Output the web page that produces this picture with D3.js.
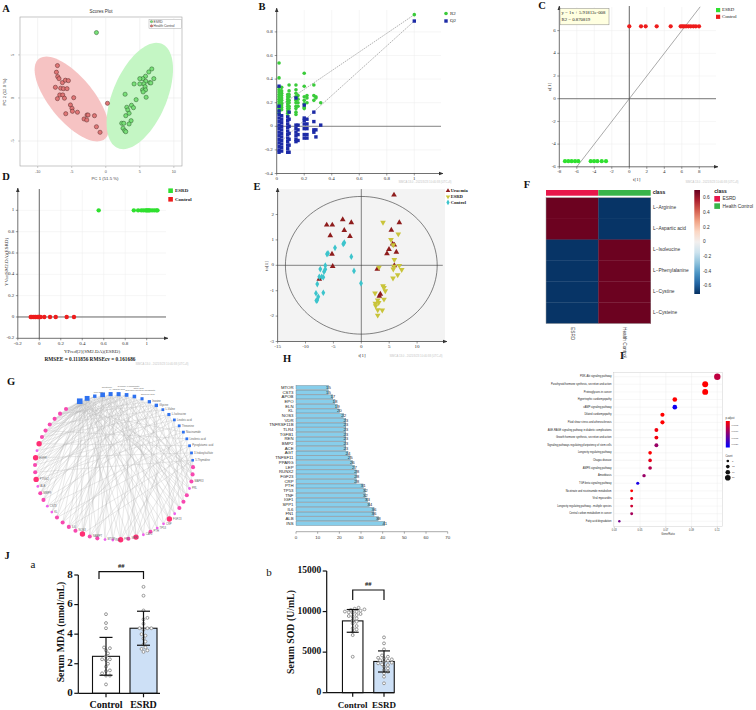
<!DOCTYPE html>
<html><head><meta charset="utf-8">
<script src="https://cdn.jsdelivr.net/npm/d3@7/dist/d3.min.js"></script>
<style>html,body{margin:0;padding:0;background:#fff;}svg{display:block}</style>
</head><body>
<svg id="fig" width="756" height="710" xmlns="http://www.w3.org/2000/svg"></svg>
<script>
// ================= DATA =================
// Panel A – PCA scores plot
const aXTicks = [-10,-5,0,5,10];
const aYTicks = [-5,0,5];
const aHealthX = [-7.1,-7.25,-7.06,-6.87,-6.37,-5.93,-5.49,-7.4,-6.62,-6.22,-5.69,-6.76,-6.32,-7.1,-6.07,-4.71,-5.19,-4.96,-4.9,-5.88,-4.16,-2.75,-2.6,-1.66,-3.19,-2.79,-1.37,-0.84,0.25];
const aHealthY = [3.76,2.99,2.48,2.24,1.78,2.06,2.01,1.24,1.13,1.08,1.08,0.35,0.35,-0.08,-0.03,0.03,-0.81,-1.2,-1.55,-1.83,-1.66,-1.98,-1.98,-2.06,-2.44,-2.56,-3.34,-3.99,-0.62];
const aEsrdX = [-1.37,6.76,6.32,7.06,5.84,5.44,5.88,6.47,6.62,5.59,5.0,4.16,5.78,5.4,5.84,5.49,5.93,2.84,4.46,3.78,3.09,4.07,3.24,2.94,3.43,3.72,2.35,2.65,3.43,2.54,2.79,2.94,5.0];
const aEsrdY = [7.59,3.37,3.02,2.24,2.52,2.24,1.94,1.78,1.74,1.63,1.63,1.63,1.31,0.93,0.93,0.7,0.08,0.43,-0.2,-0.85,-1.08,-1.13,-1.4,-2.06,-1.78,-2.64,-2.94,-2.94,-3.02,-3.52,-3.8,-3.92,2.24];

// Panel B – permutation test
const bXTicks = [0,0.2,0.4,0.6,0.8,1];
const bYTicks = [-0.4,-0.2,0,0.2,0.4,0.6,0.8];
const bPermX = [0.017,0.036,0.08,0.09,0.14,0.155,0.2,0.22,0.27,0.285,0.32,1];
const bR2 = [
 [0.536,0.41,0.33,0.31,0.29,0.27,0.25,0.23,0.21,0.19,0.17,0.15,0.13,0.11],
 [0.33,0.30,0.28,0.26,0.24,0.22,0.20,0.18,0.16,0.14],
 [0.27,0.25,0.23,0.21,0.19,0.17,0.15,0.13,0.11,0.09],
 [0.35,0.30,0.27,0.25,0.22,0.20,0.17,0.15,0.12],
 [0.35,0.31,0.28,0.25,0.22,0.20,0.17,0.15,0.12,0.10],
 [0.26,0.23,0.20,0.17],
 [0.45,0.34,0.25,0.22,0.19,0.16,0.15],
 [0.26,0.24,0.20],
 [0.35,0.26,0.22],
 [0.25,0.24],
 [0.20],
 [0.946]];
const bQ2 = [
 [0.34,0.17,0.13,0.10,0.07,0.04,0.01,-0.02,-0.05,-0.08,-0.11,-0.14,-0.17,-0.20,-0.22],
 [0.09,0.06,0.03,0.0,-0.03,-0.06,-0.09,-0.12,-0.15,-0.18,-0.21],
 [0.08,0.05,0.02,-0.01,-0.04,-0.07,-0.10,-0.13,-0.16,-0.19,-0.22],
 [0.12,0.06,0.0,-0.06,-0.11,-0.16,-0.22],
 [0.24,0.01,-0.02,-0.05,-0.08,-0.11,-0.13],
 [0.01,-0.03,-0.07,-0.12],
 [0.18,0.07,0.05,0.02,-0.02,-0.07,-0.10],
 [0.06,0.02,-0.02,-0.07,-0.10],
 [0.12,0.04,-0.03,-0.05],
 [-0.03,-0.09],
 [0.01],
 [0.892]];
const bR2Line = [0.155,0.946];
const bQ2Line = [-0.16,0.892];

// Panel C – t[1] vs u[1]
const cXTicks = [-8,-6,-4,-2,0,2,4,6,8];
const cYTicks = [-6,-4,-2,0,2,4,6];
const cControlT = [0,1.34,1.87,3.13,4.73,5.87,6.06,6.26,6.48,6.75,7.02,7.32,7.6,7.97];
const cControlU = [6.38,6.38,6.38,6.38,6.38,6.38,6.38,6.38,6.38,6.38,6.38,6.38,6.38,6.38];
const cEsrdT = [-7.35,-6.97,-6.59,-6.2,-5.83,-4.41,-4.03,-3.65,-3.15,-2.66];
const cEsrdU = [-5.5,-5.5,-5.5,-5.5,-5.5,-5.5,-5.5,-5.5,-5.5,-5.5];

// Panel D – YPred vs YVar
const dTicks = [-0.2,0,0.2,0.4,0.6,0.8,1];
const dEsrdX = [0.553,0.88,0.92,0.95,0.97,0.99,1.0,1.01,1.02,1.03,1.05,1.07,1.09,1.1];
const dEsrdY = [1,1,1,1,1,1,1,1,1,1,1,1,1,1];
const dControlX = [-0.08,-0.07,-0.056,-0.04,-0.031,-0.015,-0.006,0.0,0.013,0.047,0.1,0.153,0.255,0.323];
const dControlY = [0,0,0,0,0,0,0,0,0,0,0,0,0,0];

// Panel E – OPLS-DA scores
const eXTicks = [-15,-10,-5,0,5,10];
const eYTicks = [-3,-2,-1,0,1,2];
const eUraemiaX = [5.86,6.81,-6.2,-5.2,-3.33,-1.79,-3.05,-5.56,-2.03,5.38,5.62,5.92,4.96,4.6,6.28,-5.25,2.87,5.92,-7.53,-5.13,3.41,3.23];
const eUraemiaY = [2.77,1.68,1.59,1.59,1.8,1.68,1.38,1.17,1.14,1.39,0.84,0.8,0.63,0.46,0.52,0.44,-0.15,-0.01,-0.54,-0.04,-1.13,-1.21];
const eEsrdX = [3.89,6.63,5.32,5.73,5.92,5.86,6.81,7.24,3.17,5.73,6.52,5.68,3.89,4.07,4.3,2.46,4.07,2.94,3.11,2.51,2.58,2.94,3.76,2.94];
const eEsrdY = [1.69,1.23,1.01,0.8,0.22,-0.04,-0.01,-0.17,-0.08,-0.15,-0.38,-0.51,-0.81,-0.88,-1.01,-1.1,-1.34,-1.37,-1.47,-1.5,-1.6,-1.76,-1.77,-1.97];
const eControlX = [-3.05,-3.23,-4.71,-5.97,-6.15,-1.79,-6.45,-7.35,-6.45,-6.68,-7.1,-7.53,-6.81,-1.31,-7.89,-0.05,-6.81,-8.12,-7.71,-7.89,-8.06];
const eControlY = [0.89,0.84,0.69,0.47,0.44,0.34,-0.01,-0.15,-0.16,-0.25,-0.45,-0.45,-0.47,-0.22,-0.74,-0.71,-1.08,-1.1,-1.24,-1.37,-1.39];

// Panel F – heatmap
const fCols = ["ESRD","Health Control"];
const fRows = ["L\u2212Arginine","L\u2212Aspartic acid","L\u2212Isoleucine","L\u2212Phenylalanine","L\u2212Cystine","L\u2212Cysteine"];
const fValues = [[0.7,-0.7],[0.7,-0.7],[-0.7,0.7],[-0.7,0.7],[-0.7,0.7],[-0.7,0.7]];
const fLegendTicks = [0.6,0.4,0.2,0,-0.2,-0.4,-0.6];

// Panel G – metabolite-target network
const gMetabolites = ["L-Arginine","Hypoxanthine","Uric acid","Creatinine","L-Aspartic acid","Glucose 6-phosphate","Dihydroxyacetone phosphate","Citric acid","Succinic acid","Inosine","Glycine","L-Valine","L-Isoleucine","Linoleic acid","Threonine","Niacinamide","Linolenic acid","Pyroglutamic acid","3-Indoxylsulfate","5-Thymidine"];
const gTargets = ["SOD2","CAT","HMOX1","GPT","NOS2","AKT1","MAPK1","STAT3","EGFR","VEGFA","IL1B","PTGS2","ALB","MMP9","TGFB1","CST3","KL","ELN","TNF","IL6","NOS3","APOB","NAMPT","EPO","MTOR","INS","FN1","SPP1","IGF1","CAT2","PTH","TP53","CRP","FGF23","RUNX2","LEP","PPARG","TNFSF11","PRL","MAPK3","ACE","REN"];
const gShowLabel = [8,11,12,13,15,16,19,20,22,24,25,26,27,29,30,31,32,33,38,39];
const gLinks = [
 [0,2,5,8,11,14,17,20,23,26,29,32,35,38,41,3,9,15,21,27,33,39],
 [1,4,7,10,13,16,19,22,25,28,31,34,37,40,6,18,30],
 [0,3,6,12,24,36,2,20],
 [2,5,9,13,17,21,25,29,33,37,41,11,23,35,8,22],
 [1,6,11,16,21,26,31,36,4,14,24,34],
 [3,8,13,18,23,28,33,38,10,20,30,40],
 [0,7,14,21,28,35,5,19,27,39],
 [2,9,16,23,30,37,12,26,40],
 [4,11,18,25,32,39],
 [6,13,20,27,34,41,1],
 [1,8,15,22,29,36,17,31],
 [3,10,24,38],
 [5,12,19,26,33,40],
 [7,14,28,35],
 [9,18,27,36],
 [0,11,22,33],
 [4,15,26,37],
 [6,17,28,39],
 [8,19,30,41],
 [10,21,32]];

// Panel H – target degree bar chart
const hGenes = ["MTOR","CST3","APOB","EPO","ELN","KL","NOS3","VDR","TNFRSF11B","TLR4","TGFB1","REN","BMP2","ACE","AGT","TNFSF11","PPARG","LEP","RUNX2","FGF23","CRP","PTH","TP53","TNF","IGF1","SPP1","IL6","FN1","ALB","INS"];
const hValues = [15,15,17,18,19,20,22,23,23,23,23,23,23,23,24,25,26,27,28,28,28,31,32,32,33,34,36,36,38,41];
const hTicks = [0,10,20,30,40,50,60,70];

// Panel I – KEGG enrichment dot plot
const iPathways = ["PI3K-Akt signaling pathway","Parathyroid hormone synthesis, secretion and action","Proteoglycans in cancer","Hypertrophic cardiomyopathy","cAMP signaling pathway","Dilated cardiomyopathy","Fluid shear stress and atherosclerosis","AGE-RAGE signaling pathway in diabetic complications","Growth hormone synthesis, secretion and action","Signaling pathways regulating pluripotency of stem cells","Longevity regulating pathway","Chagas disease","AMPK signaling pathway","Amoebiasis","TGF-beta signaling pathway","Nicotinate and nicotinamide metabolism","Viral myocarditis","Longevity regulating pathway - multiple species","Central carbon metabolism in cancer","Fatty acid degradation"];
const iGeneRatio = [0.110,0.1006,0.1006,0.077,0.077,0.0674,0.0674,0.0627,0.0627,0.0627,0.0578,0.0578,0.0578,0.0531,0.0482,0.0435,0.0435,0.0435,0.0435,0.0339];
const iCount = [23,21,21,16,16,14,14,13,13,13,12,12,12,11,10,9,9,9,9,7];
const iPadj = [0.0007,0.0002,0.0002,0.0002,0.0021,0.0002,0.0002,0.0003,0.0003,0.0010,0.0002,0.0004,0.0008,0.0010,0.0020,0.0002,0.0004,0.0006,0.0009,0.0013];
const iXTicks = [0.03,0.05,0.07,0.09,0.11];
const iCountLegend = [8,12,16,20];
const iPLegend = [0.0005,0.0010,0.0015,0.0020];

// Panel J – serum MDA / SOD
const jCats = ["Control","ESRD"];
const jaControl = [5.35,4.75,4.4,3.1,3.05,2.9,2.7,2.5,2.3,2.3,2.25,2.0,1.8,1.55,1.5,1.35,1.2,1.2,0.6];
const jaEsrd = [7.2,6.6,5.6,5.1,5.0,4.7,4.4,4.4,4.4,4.3,4.0,3.9,3.7,3.5,3.3,3.1,2.9,2.8,3.0];
const jaMean = [2.5,4.4];
const jaSd = [1.28,1.15];
const jaTicks = [0,2,4,6,8];
const jbControl = [10470,10350,10270,10200,10100,10000,9975,9900,9850,9700,9570,9450,9360,9160,8950,8750,8550,8215,7930,7800,7510,7100,4430];
const jbEsrd = [6820,6080,5340,4600,4430,4300,4230,4110,4000,3940,3820,3700,3620,3500,3410,3200,3000,2800,2600,2390,1970,1160];
const jbMean = [8850,3850];
const jbSd = [1400,1300];
const jbTicks = [0,5000,10000,15000];

// ================= DRAWING =================
const svg = d3.select('#fig');
const SERIF = "'Liberation Serif','Times New Roman',serif";
const SANS = "'Liberation Sans',Arial,Helvetica,sans-serif";
svg.append('rect').attr('width',756).attr('height',710).attr('fill','#fff');
const defs = svg.append('defs');
defs.append('marker').attr('id','arrow').attr('markerUnits','userSpaceOnUse').attr('viewBox','0 0 10 10')
  .attr('refX',9).attr('refY',5).attr('markerWidth',4.5).attr('markerHeight',4.5).attr('orient','auto')
  .append('path').attr('d','M0,1L10,5L0,9Z').attr('fill','#333');

function txt(g,x,y,s,o={}){
  const t=g.append('text').attr('x',x).attr('y',y).text(s)
   .attr('font-family',o.family||SANS).attr('font-size',o.size||5).attr('fill',o.fill||'#222')
   .attr('text-anchor',o.anchor||'start').attr('dominant-baseline',o.base||'middle');
  if(o.weight) t.attr('font-weight',o.weight);
  if(o.rotate!=null) t.attr('transform',`rotate(${o.rotate},${x},${y})`);
  return t;
}
function ln(g,x1,y1,x2,y2,stroke='#333',w=0.6,dash=null,marker=null){
  const l=g.append('line').attr('x1',x1).attr('y1',y1).attr('x2',x2).attr('y2',y2).attr('stroke',stroke).attr('stroke-width',w);
  if(dash) l.attr('stroke-dasharray',dash);
  if(marker) l.attr('marker-end',`url(#${marker})`);
  return l;
}
const fmt = v => String(+v.toFixed(2));
const wm = "SIMCA 13.0 - 2021/3/23 10:40:38 (UTC+8)";

// panel letters
[["A",6,10],["B",262,8],["C",542,7],["D",6,178],["E",257,188],["F",527,186],["G",11,383],["H",287,360],["I",622,357],["J",7,557]]
 .forEach(d=>txt(svg,d[1],d[2],d[0],{family:SERIF,weight:'bold',size:10.5,anchor:'middle',fill:'#111'}));
txt(svg,33,565,"a",{family:SERIF,size:11,anchor:'middle',fill:'#111'});
txt(svg,269,573,"b",{family:SERIF,size:11,anchor:'middle',fill:'#111'});

// ---------- Panel A ----------
{
const g=svg.append('g');
const x=d3.scaleLinear().domain([-12.6,11.2]).range([20,182]);
const y=d3.scaleLinear().domain([-7.9,9.4]).range([166,17]);
g.append('rect').attr('x',20).attr('y',17).attr('width',162).attr('height',149).attr('fill','#fff').attr('stroke','#a0a0a0').attr('stroke-width',0.6);
aXTicks.forEach(t=>{ln(g,x(t),17,x(t),166,'#e6e6e6',0.5);ln(g,x(t),166,x(t),168,'#888',0.4);txt(g,x(t),171.5,String(t),{size:3.8,anchor:'middle',fill:'#555'});});
aYTicks.forEach(t=>{ln(g,20,y(t),182,y(t),'#e6e6e6',0.5);ln(g,18,y(t),20,y(t),'#888',0.4);txt(g,13.5,y(t),String(t),{size:3.8,anchor:'middle',fill:'#555',rotate:-90});});
const ell=(c,u,v)=>{const pts=d3.range(0,361,4).map(a=>{const t=a*Math.PI/180;return [x(c[0]+u[0]*Math.cos(t)+v[0]*Math.sin(t)),y(c[1]+u[1]*Math.cos(t)+v[1]*Math.sin(t))];});return d3.line()(pts)+'Z';};
g.append('path').attr('d',ell([-5.0,-0.12],[4.85,-4.65],[-2.49,-1.63])).attr('fill','#f6c3c3');
g.append('path').attr('d',ell([5.0,0.23],[3.24,6.05],[3.65,-1.22])).attr('fill','#c4f6c4');
aHealthX.forEach((v,i)=>g.append('circle').attr('cx',x(v)).attr('cy',y(aHealthY[i])).attr('r',2.1).attr('fill','#e07676').attr('stroke','#4a2020').attr('stroke-width',0.45));
aEsrdX.forEach((v,i)=>g.append('circle').attr('cx',x(v)).attr('cy',y(aEsrdY[i])).attr('r',2.1).attr('fill','#78e078').attr('stroke','#1f4a1f').attr('stroke-width',0.45));
txt(g,101,12,"Scores Plot",{size:4.5,anchor:'middle',fill:'#333'});
txt(g,105,179,"PC 1 (51.5 %)",{size:4.3,anchor:'middle',fill:'#444'});
txt(g,5,92,"PC 2 (12.0 %)",{size:4.3,anchor:'middle',fill:'#444',rotate:-90});
g.append('rect').attr('x',149).attr('y',19.2).attr('width',32.5).attr('height',9).attr('fill','#fff').attr('stroke','#999').attr('stroke-width',0.4);
g.append('circle').attr('cx',151.5).attr('cy',21.6).attr('r',1.2).attr('fill','#78e078').attr('stroke','#1f4a1f').attr('stroke-width',0.3);
g.append('circle').attr('cx',151.5).attr('cy',25.9).attr('r',1.2).attr('fill','#e07676').attr('stroke','#4a2020').attr('stroke-width',0.3);
txt(g,153.5,21.7,"ESRD",{size:3.3,fill:'#444'});
txt(g,153.5,26,"Health Control",{size:3.3,fill:'#444'});
}

// ---------- Panel B ----------
{
const g=svg.append('g');
const x=d3.scaleLinear().domain([0,1]).range([276.7,414.3]);
const y=d3.scaleLinear().domain([-0.4,1]).range([173.5,8.3]);
bXTicks.slice(1).forEach(t=>ln(g,x(t),y(-0.4),x(t),10,'#ececec',0.5));
bYTicks.slice(1).forEach(t=>ln(g,x(0),y(t),441,y(t),'#ececec',0.5));
ln(g,x(0),y(0),441,y(0),'#555',0.7);
ln(g,x(0),y(-0.4),x(0),8,'#333',0.7,null,'arrow');
ln(g,x(0),y(-0.4),443,y(-0.4),'#333',0.7,null,'arrow');
bYTicks.forEach(t=>{ln(g,x(0)-2,y(t),x(0),y(t),'#333',0.5);txt(g,x(0)-4,y(t),fmt(t),{family:SERIF,size:5,anchor:'end',fill:'#333'});});
bXTicks.forEach(t=>{ln(g,x(t),y(-0.4),x(t),y(-0.4)+2,'#333',0.5);txt(g,x(t),y(-0.4)+5.5,fmt(t),{family:SERIF,size:5,anchor:'middle',fill:'#333'});});
ln(g,x(0),y(bR2Line[0]),x(1),y(bR2Line[1]),'#666',0.5,'1.6,0.9');
ln(g,x(0),y(bQ2Line[0]),x(1),y(bQ2Line[1]),'#666',0.5,'1.6,0.9');
bPermX.forEach((px,i)=>bR2[i].forEach(v=>g.append('circle').attr('cx',x(px)).attr('cy',y(v)).attr('r',1.8).attr('fill','#3acb3a')));
bPermX.forEach((px,i)=>bQ2[i].forEach(v=>g.append('rect').attr('x',x(px)-1.7).attr('y',y(v)-1.7).attr('width',3.4).attr('height',3.4).attr('fill','#1c2aa6')));
g.append('circle').attr('cx',446).attr('cy',13.5).attr('r',1.8).attr('fill','#3acb3a');
g.append('rect').attr('x',444.3).attr('y',19.3).attr('width',3.4).attr('height',3.4).attr('fill','#1c2aa6');
txt(g,450,13.7,"R2",{family:SERIF,size:5,fill:'#222'});
txt(g,450,21.2,"Q2",{family:SERIF,size:5,fill:'#222'});
txt(g,425,182.7,wm,{size:2.8,anchor:'middle',fill:'#c4c4c4'});
}

// ---------- Panel C ----------
{
const g=svg.append('g');
const x=d3.scaleLinear().domain([-8,10]).range([559.3,716.8]);
const y=d3.scaleLinear().domain([-6,8.1]).range([166.8,6.8]);
cXTicks.slice(1).forEach(t=>ln(g,x(t),y(-6),x(t),7,'#ececec',0.5));
cYTicks.slice(1).forEach(t=>ln(g,x(-8),y(t),716,y(t),'#ececec',0.5));
ln(g,x(0),y(-6),x(0),6,'#444',0.8);
ln(g,x(-8),y(0),716,y(0),'#555',0.8);
ln(g,x(-8),y(-6),x(-8),6,'#333',0.7,null,'arrow');
ln(g,x(-8),y(-6),718,y(-6),'#333',0.7,null,'arrow');
cYTicks.forEach(t=>{ln(g,x(-8)-2,y(t),x(-8),y(t),'#333',0.5);txt(g,x(-8)-3.5,y(t),String(t),{family:SERIF,size:5,anchor:'end',fill:'#333'});});
cXTicks.forEach(t=>{ln(g,x(t),y(-6),x(t),y(-6)+2,'#333',0.5);txt(g,x(t),y(-6)+5.5,String(t),{family:SERIF,size:5,anchor:'middle',fill:'#333'});});
ln(g,x(-6),y(-6),x(8.1),y(8.1),'#555',0.5);
cControlT.forEach((v,i)=>g.append('circle').attr('cx',x(v)).attr('cy',y(cControlU[i])).attr('r',2.1).attr('fill','#ee1c1c'));
cEsrdT.forEach((v,i)=>g.append('circle').attr('cx',x(v)).attr('cy',y(cEsrdU[i])).attr('r',2.1).attr('fill','#2fe02f'));
g.append('rect').attr('x',560).attr('y',8.3).attr('width',49).attr('height',16.5).attr('fill','#ffffe0').attr('stroke','#888').attr('stroke-width',0.5);
txt(g,561.5,13,"y = 1x + 5.91813e-008",{family:SERIF,size:4.8,fill:'#222'});
txt(g,561.5,20.3,"R2 = 0.870819",{family:SERIF,size:4.8,fill:'#222'});
g.append('rect').attr('x',716).attr('y',8).attr('width',4.2).attr('height',4.2).attr('fill','#2fe02f');
g.append('rect').attr('x',716).attr('y',14.7).attr('width',4.2).attr('height',4.2).attr('fill','#ee1c1c');
txt(g,722,10.3,"ESRD",{family:SERIF,size:4.8,fill:'#222'});
txt(g,722,17,"Control",{family:SERIF,size:4.8,fill:'#222'});
txt(g,550,87,"u[1]",{family:SERIF,size:5,anchor:'middle',fill:'#333',rotate:-90});
txt(g,636.7,179.5,"t[1]",{family:SERIF,size:5,anchor:'middle',fill:'#333'});
txt(g,712,182.7,wm,{size:2.8,anchor:'middle',fill:'#c4c4c4'});
}

// ---------- Panel D ----------
{
const g=svg.append('g');
const x=d3.scaleLinear().domain([-0.2,1.2]).range([17.8,168.2]);
const y=d3.scaleLinear().domain([-0.2,1.2]).range([338.3,189]);
dTicks.slice(1).forEach(t=>{ln(g,x(t),y(-0.2),x(t),190,'#ececec',0.5);ln(g,x(-0.2),y(t),166,y(t),'#ececec',0.5);});
ln(g,x(0),y(-0.2),x(0),189,'#444',0.8);
ln(g,x(-0.2),y(0),166,y(0),'#444',0.8);
ln(g,x(-0.2),y(-0.2),x(-0.2),188,'#333',0.7,null,'arrow');
ln(g,x(-0.2),y(-0.2),168,y(-0.2),'#333',0.7,null,'arrow');
dTicks.forEach(t=>{ln(g,x(-0.2)-2,y(t),x(-0.2),y(t),'#333',0.5);txt(g,x(-0.2)-3.5,y(t),fmt(t),{family:SERIF,size:5,anchor:'end',fill:'#333'});
  ln(g,x(t),y(-0.2),x(t),y(-0.2)+2,'#333',0.5);txt(g,x(t),y(-0.2)+5.3,fmt(t),{family:SERIF,size:5,anchor:'middle',fill:'#333'});});
dControlX.forEach((v,i)=>g.append('circle').attr('cx',x(v)).attr('cy',y(dControlY[i])).attr('r',2.2).attr('fill','#ee1c1c'));
dEsrdX.forEach((v,i)=>g.append('circle').attr('cx',x(v)).attr('cy',y(dEsrdY[i])).attr('r',2.2).attr('fill','#2fe02f'));
g.append('rect').attr('x',168.3).attr('y',188.4).attr('width',4.6).attr('height',4.6).attr('fill','#2fe02f');
g.append('rect').attr('x',168.3).attr('y',197).attr('width',4.6).attr('height',4.6).attr('fill','#ee1c1c');
txt(g,175,190.8,"ESRD",{family:SERIF,size:5,fill:'#222',weight:'bold'});
txt(g,175,199.4,"Control",{family:SERIF,size:5,fill:'#222',weight:'bold'});
txt(g,7,262,"YVar(SM2.DA)(ESRD)",{family:SERIF,size:5,anchor:'middle',fill:'#333',rotate:-90});
txt(g,92,351.5,"YPred[2](SM2.DA)(ESRD)",{family:SERIF,size:5,anchor:'middle',fill:'#333'});
txt(g,90,359.5,"RMSEE = 0.111856   RMSEcv = 0.161686",{family:SERIF,size:5.3,anchor:'middle',fill:'#222',weight:'bold'});
txt(g,162,364.5,wm,{size:2.8,anchor:'middle',fill:'#c4c4c4'});
}

// ---------- Panel E ----------
{
const g=svg.append('g');
const x=d3.scaleLinear().domain([-15,15]).range([277.6,445]);
const y=d3.scaleLinear().domain([-3,3]).range([341.5,189.1]);
g.append('rect').attr('x',x(-15)).attr('y',y(3)).attr('width',x(15)-x(-15)).attr('height',y(-3)-y(3)).attr('fill','#f3f3f3');
const ep=d3.range(0,361,3).map(a=>{const t=a*Math.PI/180;return [x(13.6*Math.cos(t)),y(2.71*Math.sin(t))];});
g.append('path').attr('d',d3.line()(ep)+'Z').attr('fill','none').attr('stroke','#333').attr('stroke-width',0.6);
ln(g,x(0),y(-3),x(0),y(3),'#333',0.6);
ln(g,x(-15),y(0),x(14.6),y(0),'#333',0.6);
ln(g,x(-15),y(-3),x(-15),188,'#333',0.7,null,'arrow');
ln(g,x(-15),y(-3),447,y(-3),'#333',0.7,null,'arrow');
eYTicks.forEach(t=>{ln(g,x(-15)-2,y(t),x(-15),y(t),'#333',0.5);txt(g,x(-15)-3.5,y(t),String(t),{family:SERIF,size:5,anchor:'end',fill:'#333'});});
eXTicks.forEach(t=>{ln(g,x(t),y(-3),x(t),y(-3)+2,'#333',0.5);txt(g,x(t),y(-3)+5.8,String(t),{family:SERIF,size:5,anchor:'middle',fill:'#333'});});
const tri=d3.symbol().type(d3.symbolTriangle).size(14)();
const dia=d3.symbol().type(d3.symbolDiamond).size(13)();
eUraemiaX.forEach((v,i)=>g.append('path').attr('d',tri).attr('transform',`translate(${x(v)},${y(eUraemiaY[i])})`).attr('fill','#8e1c1c'));
eEsrdX.forEach((v,i)=>g.append('path').attr('d',tri).attr('transform',`translate(${x(v)},${y(eEsrdY[i])}) rotate(180)`).attr('fill','#c9c43a'));
eControlX.forEach((v,i)=>g.append('path').attr('d',dia).attr('transform',`translate(${x(v)},${y(eControlY[i])})`).attr('fill','#3cc4cc'));
g.append('path').attr('d',d3.symbol().type(d3.symbolTriangle).size(9)()).attr('transform','translate(448,190.8)').attr('fill','#8e1c1c');
g.append('path').attr('d',d3.symbol().type(d3.symbolTriangle).size(9)()).attr('transform','translate(448,196.7) rotate(180)').attr('fill','#c9c43a');
g.append('path').attr('d',d3.symbol().type(d3.symbolDiamond).size(9)()).attr('transform','translate(448,202.4)').attr('fill','#3cc4cc');
txt(g,450.7,191,"Uraemia",{family:SERIF,size:4.6,fill:'#222',weight:'bold'});
txt(g,450.7,196.9,"ESRD",{family:SERIF,size:4.6,fill:'#222',weight:'bold'});
txt(g,450.7,202.6,"Control",{family:SERIF,size:4.6,fill:'#222',weight:'bold'});
txt(g,266.5,266,"to[1]",{family:SERIF,size:5,anchor:'middle',fill:'#333',rotate:-90});
txt(g,362,355.5,"t[1]",{family:SERIF,size:5,anchor:'middle',fill:'#333'});
txt(g,416,356,wm,{size:2.8,anchor:'middle',fill:'#c4c4c4'});
}

// ---------- Panel F ----------
{
const g=svg.append('g');
const xB=d3.scaleBand().domain(fCols).range([546,650.7]);
const yB=d3.scaleBand().domain(fRows).range([197.7,323.3]);
const col=v=>d3.interpolateRdBu((0.71-v)/1.42);
const classCol={"ESRD":"#e8174b","Health Control":"#39b54a"};
fCols.forEach(c=>g.append('rect').attr('x',xB(c)).attr('y',190).attr('width',xB.bandwidth()).attr('height',5.7).attr('fill',classCol[c]));
txt(g,652.7,193,"class",{size:5,weight:'bold',fill:'#111'});
fRows.forEach((r,i)=>fCols.forEach((c,j)=>g.append('rect').attr('x',xB(c)).attr('y',yB(r)).attr('width',xB.bandwidth()+0.3).attr('height',yB.bandwidth()+0.3).attr('fill',col(fValues[i][j]))));
g.append('rect').attr('x',546).attr('y',197.7).attr('width',104.7).attr('height',125.6).attr('fill','none').attr('stroke','#9a9a9a').attr('stroke-width',0.5);
fRows.forEach(r=>txt(g,653,yB(r)+yB.bandwidth()/2,r,{size:4.8,fill:'#333'}));
fCols.forEach(c=>txt(g,xB(c)+xB.bandwidth()/2,327,c,{size:4.8,fill:'#333',rotate:90}));
const grad=defs.append('linearGradient').attr('id','rdbu').attr('x1',0).attr('y1',0).attr('x2',0).attr('y2',1);
d3.range(0,1.001,0.1).forEach(t=>grad.append('stop').attr('offset',t).attr('stop-color',d3.interpolateRdBu(t)));
const ly=d3.scaleLinear().domain([0.709,-0.709]).range([190,294]);
g.append('rect').attr('x',694.3).attr('y',190).attr('width',5.7).attr('height',104).attr('fill','url(#rdbu)');
fLegendTicks.forEach(t=>txt(g,703,ly(t),fmt(t),{size:4.8,fill:'#333'}));
txt(g,714.3,191.5,"class",{size:5,weight:'bold',fill:'#111'});
g.append('rect').attr('x',714.3).attr('y',196).attr('width',5.7).attr('height',5.6).attr('fill','#e8174b');
g.append('rect').attr('x',714.3).attr('y',203.3).attr('width',5.7).attr('height',5.6).attr('fill','#39b54a');
txt(g,722.5,199,"ESRD",{size:4.8,fill:'#333'});
txt(g,722.5,206.3,"Health Control",{size:4.8,fill:'#333'});
}

// ---------- Panel G ----------
{
const g=svg.append('g');
const cx=114, cy=467, rx=79, ry=73;
const pos=a=>[cx+rx*Math.sin(a*Math.PI/180), cy-ry*Math.cos(a*Math.PI/180)];
const tDeg=gTargets.map(()=>0);
gLinks.forEach(l=>l.forEach(t=>tDeg[t]++));
const mNodes=gMetabolites.map((n,j)=>{const p=pos(-25.7+j*5.81);return {name:n,x:p[0],y:p[1],deg:gLinks[j].length};});
const tNodes=gTargets.map((n,i)=>{const p=pos(-37.4-i*5.67);return {name:n,x:p[0],y:p[1],deg:tDeg[i]};});
gLinks.forEach((l,j)=>l.forEach(t=>ln(g,mNodes[j].x,mNodes[j].y,tNodes[t].x,tNodes[t].y,'#b8b8b8',0.32)));
const td=d3.extent(tDeg), md=d3.extent(mNodes,d=>d.deg);
const tr=d3.scaleLinear().domain(td).range([1.4,2.7]);
const tc=d3.scaleLinear().domain(td).range(['#ee62ec','#ff2f74']);
const ms=d3.scaleLinear().domain(md).range([2.6,5.6]);
tNodes.forEach(n=>g.append('circle').attr('cx',n.x).attr('cy',n.y).attr('r',tr(n.deg)).attr('fill',tc(n.deg)));
mNodes.forEach(n=>{const s=ms(n.deg);g.append('rect').attr('x',n.x-s/2).attr('y',n.y-s/2).attr('width',s).attr('height',s).attr('fill','#2f72f0');});
mNodes.forEach((n,j)=>{
  if(j<2) return;
  if(j<=8){ // top arc: staggered rows above the nodes to limit overlap
    const dy = (j%2===0) ? -4.2 : -7.6;
    txt(g,n.x-1,n.y+dy,n.name,{size:2.3,fill:'#666'});
  } else txt(g,n.x+ms(n.deg)/2+1.2,n.y,n.name,{size:2.7,fill:'#666'});
});
gShowLabel.forEach(i=>{const n=tNodes[i];txt(g,n.x+tr(n.deg)+1,n.y,n.name,{size:2.7,fill:'#666'});});
}

// ---------- Panel H ----------
{
const g=svg.append('g');
const x=d3.scaleLinear().domain([0,70]).range([296,447.7]);
const y=d3.scaleBand().domain(hGenes).range([385.5,525.5]).paddingInner(0.14);
hGenes.forEach((gn,i)=>{
  g.append('rect').attr('x',x(0)).attr('y',y(gn)).attr('width',x(hValues[i])-x(0)).attr('height',y.bandwidth()).attr('fill','#87ceeb').attr('stroke','#5d6b75').attr('stroke-width',0.35);
  txt(g,x(hValues[i]),y(gn)+y.bandwidth()/2+0.2,String(hValues[i]),{size:4.4,anchor:'middle',fill:'#1d2b36'});
  txt(g,293.5,y(gn)+y.bandwidth()/2+0.2,gn,{size:4.3,anchor:'end',fill:'#222'});
});
ln(g,x(0),531.7,x(70),531.7,'#555',0.5);
hTicks.forEach(t=>{ln(g,x(t),531.7,x(t),533.7,'#555',0.5);txt(g,x(t),537.8,String(t),{size:4.4,anchor:'middle',fill:'#333'});});
}

// ---------- Panel I ----------
{
const g=svg.append('g');
const x=d3.scaleLinear().domain([0.03,0.11]).range([614.3,717.3]);
const y=d3.scalePoint().domain(iPathways).range([376.7,521.3]);
const pc=d3.scaleLinear().domain([0.0002,0.0022]).range(['#ff0000','#0000ff']);
const rs=d3.scaleLinear().domain([7,23]).range([1.2,3.2]);
g.append('rect').attr('x',613.3).attr('y',372.7).attr('width',109.4).attr('height',154).attr('fill','#fff').attr('stroke','#cfcfcf').attr('stroke-width',0.5);
iXTicks.forEach(t=>{ln(g,x(t),372.7,x(t),526.7,'#ececec',0.4);ln(g,x(t),526.7,x(t),528,'#666',0.3);txt(g,x(t),530,fmt(t),{size:2.6,anchor:'middle',fill:'#444'});});
iPathways.forEach((p,i)=>{ln(g,613.3,y(p),722.7,y(p),'#ececec',0.4);txt(g,611.5,y(p),p,{size:2.6,anchor:'end',fill:'#222'});});
iPathways.forEach((p,i)=>g.append('circle').attr('cx',x(iGeneRatio[i])).attr('cy',y(p)).attr('r',rs(iCount[i])).attr('fill',pc(iPadj[i])));
txt(g,668,533.8,"GeneRatio",{size:2.8,anchor:'middle',fill:'#333'});
const gr=defs.append('linearGradient').attr('id','pgrad').attr('x1',0).attr('y1',0).attr('x2',0).attr('y2',1);
gr.append('stop').attr('offset',0).attr('stop-color','#ff0000');
gr.append('stop').attr('offset',1).attr('stop-color','#0000ff');
txt(g,725.5,418.3,"p.adjust",{size:2.6,fill:'#333'});
g.append('rect').attr('x',725.8).attr('y',421).attr('width',4).attr('height',26.5).attr('fill','url(#pgrad)');
const ply=d3.scaleLinear().domain([0.0002,0.0022]).range([421.5,447]);
iPLegend.forEach(v=>txt(g,731.5,ply(v),v.toFixed(4),{size:2.2,fill:'#444'}));
txt(g,725.5,456,"Count",{size:2.6,fill:'#333'});
iCountLegend.forEach((c,k)=>{const yy=461+k*5.6;g.append('circle').attr('cx',727.8).attr('cy',yy).attr('r',rs(c)).attr('fill','#111');txt(g,732,yy,String(c),{size:2.3,fill:'#444'});});
}

// ---------- Panel J helpers ----------
function swarm(vals,cx,yS,r){
  const placed=[];const out=[];
  const sorted=vals.map((v,i)=>({v,i})).sort((a,b)=>a.v-b.v);
  sorted.forEach(o=>{
    const py=yS(o.v);
    const cands=[0];for(let k=1;k<12;k++){cands.push(k*(r*1.35),-k*(r*1.35));}
    let px=cx;
    for(const c of cands){const tx=cx+c;if(placed.every(p=>Math.hypot(p[0]-tx,p[1]-py)>=2*r+0.2)){px=tx;break;}}
    placed.push([px,py]);out.push([px,py]);
  });
  return out;
}
function barPanel(opt){
  const g=svg.append('g');
  const y=d3.scaleLinear().domain(opt.dom).range(opt.yr);
  const x=d3.scalePoint().domain(jCats).range(opt.xr);
  const fills=['#ffffff','#cde0f6'];
  jCats.forEach((c,i)=>g.append('rect').attr('x',x(c)-opt.bw/2).attr('y',y(opt.mean[i])).attr('width',opt.bw).attr('height',y(0)-y(opt.mean[i])).attr('fill',fills[i]).attr('stroke','#111').attr('stroke-width',1.1));
  [opt.d0,opt.d1].forEach((vals,i)=>swarm(vals,x(jCats[i]),y,1.45).forEach(p=>g.append('circle').attr('cx',p[0]).attr('cy',p[1]).attr('r',1.45).attr('fill','#fff').attr('stroke','#8c8c8c').attr('stroke-width',0.9)));
  jCats.forEach((c,i)=>{const m=opt.mean[i],s=opt.sd[i],cxp=x(c);
    ln(g,cxp,y(m-s),cxp,y(m+s),'#111',1.2);ln(g,cxp-opt.cap,y(m+s),cxp+opt.cap,y(m+s),'#111',1.2);ln(g,cxp-opt.cap,y(m-s),cxp+opt.cap,y(m-s),'#111',1.2);});
  ln(g,opt.ax,y(opt.dom[0]),opt.ax,y(opt.dom[1]),'#111',1.2);
  ln(g,opt.ax,y(0),opt.xend,y(0),'#111',1.2);
  opt.ticks.forEach(t=>{ln(g,opt.ax-4,y(t),opt.ax,y(t),'#111',1.2);txt(g,opt.ax-5.5,y(t),String(t),{family:SERIF,weight:'bold',size:opt.tsize,anchor:'end',fill:'#111'});});
  jCats.forEach(c=>{ln(g,x(c),y(0),x(c),y(0)+4,'#111',1.2);txt(g,x(c),opt.labY,c,{family:SERIF,weight:'bold',size:opt.lsize,anchor:'middle',fill:'#111'});});
  txt(g,opt.ylx,opt.yly,opt.ylab,{family:SERIF,weight:'bold',size:opt.ysize,anchor:'middle',fill:'#111',rotate:-90});
  g.append('path').attr('d',`M${opt.br[0]},${opt.br[3]}V${opt.br[2]}H${opt.br[1]}V${opt.br[3]}`).attr('fill','none').attr('stroke','#111').attr('stroke-width',1.2);
  txt(g,(opt.br[0]+opt.br[1])/2,opt.br[2]-5.5,"##",{family:SERIF,weight:'bold',size:6.5,anchor:'middle',fill:'#111'});
}
barPanel({dom:[0,8],yr:[693.3,575],xr:[106,143.5],bw:27,cap:6.5,mean:jaMean,sd:jaSd,d0:jaControl,d1:jaEsrd,ax:78.3,xend:160,ticks:jaTicks,tsize:11,lsize:10,labY:705.5,ylx:62,yly:632,ylab:"Serum MDA (nmol/mL)",ysize:9.8,br:[99,143.5,571.7,579]});
barPanel({dom:[0,15000],yr:[692.7,571],xr:[352.7,384],bw:20.5,cap:6,mean:jbMean,sd:jbSd,d0:jbControl,d1:jbEsrd,ax:326.7,xend:394,ticks:jbTicks,tsize:9.5,lsize:9,labY:705.5,ylx:292,yly:632,ylab:"Serum SOD (U/mL)",ysize:9.8,br:[352.7,384,590,600]});
</script></body></html>
